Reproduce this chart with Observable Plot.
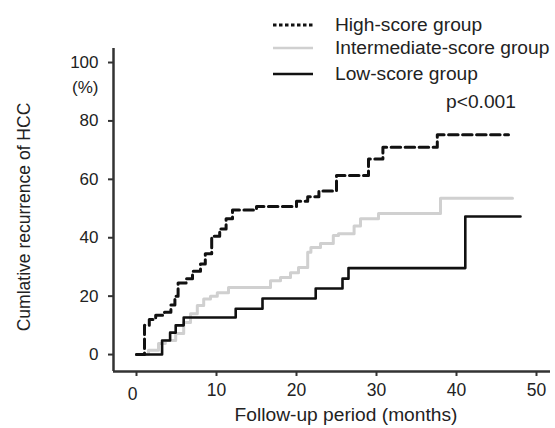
<!DOCTYPE html>
<html><head><meta charset="utf-8">
<script src="https://cdn.jsdelivr.net/npm/d3@7"></script>
<script src="https://cdn.jsdelivr.net/npm/@observablehq/plot@0.6"></script>
<style>
body{margin:0;background:#fff;}
#wrap{position:relative;width:555px;height:428px;font-family:"Liberation Sans",Arial,sans-serif;color:#222;overflow:hidden;}
.legrow{position:absolute;left:273px;height:24px;display:flex;align-items:center;font-size:19.2px;white-space:nowrap;}
.legrow svg{margin-right:22px;}
#pval{position:absolute;left:446px;top:91px;font-size:19.2px;}
</style></head><body><div id="wrap"></div>
<script>
const groups = ["High-score group", "Intermediate-score group", "Low-score group"];
const highMonths  = [0, 1.0, 1.6, 2.4, 3.5, 4.3, 4.8, 5.2, 6.2, 7.0, 8.0, 8.6, 9.4, 10.4, 11.2, 12.0, 15.0, 20.0, 21.4, 22.8, 25.0, 29.0, 30.8, 37.6, 46.5];
const highValues  = [0, 10, 12, 13.5, 14.5, 17, 20, 24.5, 26, 28.5, 31, 34.5, 40.5, 43, 46.5, 49.5, 50.7, 52.5, 54, 56, 61.3, 67, 71, 75.3, 75.3];
const interMonths = [0, 1.5, 2.75, 3.6, 4.9, 5.9, 6.75, 7.6, 8.4, 9.25, 10.1, 11.5, 16.75, 18.0, 19.25, 20.25, 21.4, 21.8, 23.0, 24.6, 25.25, 27.2, 28.0, 30.25, 38.0, 47.0];
const interValues = [0, 1.5, 3.8, 4.8, 7.2, 11, 14, 16.8, 19, 20, 21.2, 23, 25.3, 26.4, 28, 29.8, 35, 36.7, 38, 40.8, 41.4, 44, 46.5, 48.3, 53.5, 53.5];
const lowMonths   = [0, 3.2, 4.2, 4.9, 5.9, 12.4, 15.75, 22.4, 25.75, 26.5, 41.1, 48.0];
const lowValues   = [0, 4.8, 7.5, 10, 12.7, 15.7, 19.2, 22.6, 26, 29.6, 47.3, 47.3];
const xTicks = [0, 10, 20, 30, 40, 50];
const yTicks = [0, 20, 40, 60, 80, 100];
const xLabel = "Follow-up period (months)";
const yLabel = "Cumlative recurrence of HCC";
const yUnit = "(%)";
const pText = "p<0.001";
const xDomain = [-2.875, 51.75];
const yDomain = [-5.8, 104.8];

const rows = (g, ms, vs) => ms.map((m, i) => ({group: g, month: m, value: vs[i]}));
const high = rows(groups[0], highMonths, highValues);
const inter = rows(groups[1], interMonths, interValues);
const low = rows(groups[2], lowMonths, lowValues);

const styles = [
  {stroke: "#111", strokeWidth: 3, strokeDasharray: "9.5,4.5", legendDash: "3.5,2.5", legendWidth: 3},
  {stroke: "#d0d0d0", strokeWidth: 3, strokeDasharray: null, legendDash: null, legendWidth: 2.5},
  {stroke: "#111", strokeWidth: 2.6, strokeDasharray: null, legendDash: null, legendWidth: 2.5}
];

const font = "'Liberation Sans', Arial, sans-serif";
const chart = Plot.plot({
  width: 555, height: 428,
  marginLeft: 113, marginRight: 5, marginTop: 48, marginBottom: 57,
  style: {fontFamily: font, fontSize: "17px", color: "#222", background: "white", overflow: "visible"},
  x: {domain: xDomain},
  y: {domain: yDomain},
  marks: [
    Plot.line(inter, {x: "month", y: "value", curve: "step-after", stroke: styles[1].stroke, strokeWidth: styles[1].strokeWidth}),
    Plot.line(low, {x: "month", y: "value", curve: "step-after", stroke: styles[2].stroke, strokeWidth: styles[2].strokeWidth}),
    Plot.line(high, {x: "month", y: "value", curve: "step-after", stroke: styles[0].stroke, strokeWidth: styles[0].strokeWidth, strokeDasharray: styles[0].strokeDasharray}),
    Plot.axisY(yTicks, {anchor: "left", tickSize: 5, tickPadding: 10, label: null, stroke: "#333", strokeWidth: 2, fontSize: 17}),
    Plot.axisX(xTicks, {anchor: "bottom", tickSize: 5, text: null, label: null, stroke: "#333", strokeWidth: 2}),
    Plot.text(xTicks.slice(1), {x: d => d, frameAnchor: "bottom", dy: 24, fontSize: 17.5, fill: "#222"}),
    Plot.text(xTicks.slice(0, 1), {x: d => d, frameAnchor: "bottom", dy: 28, dx: -4, fontSize: 17.5, fill: "#222"}),
    Plot.ruleX([xDomain[0]], {stroke: "#333", strokeWidth: 2.5}),
    Plot.ruleY([yDomain[0]], {stroke: "#333", strokeWidth: 2.5}),
    Plot.text([yUnit], {x: xDomain[0], y: yTicks[5], dx: -15, dy: 25, textAnchor: "end", fontSize: 17, fill: "#222"}),
    Plot.text([yLabel], {frameAnchor: "left", textAnchor: "middle", rotate: -90, dx: -89, dy: 7, fontSize: 17.5, fill: "#222"}),
    Plot.text([xLabel], {frameAnchor: "bottom", textAnchor: "middle", dx: 14, dy: 49, fontSize: 19.2, fill: "#222"})
  ]
});
const wrap = document.getElementById("wrap");
wrap.appendChild(chart);

const legTops = [13, 36, 62];
groups.forEach((g, i) => {
  const row = document.createElement("div");
  row.className = "legrow";
  row.style.top = legTops[i] + "px";
  const s = styles[i];
  row.innerHTML = `<svg width="40" height="10"><line x1="0" x2="40" y1="5" y2="5" stroke="${s.stroke}" stroke-width="${s.legendWidth}" ${s.legendDash ? `stroke-dasharray="${s.legendDash}"` : ""}/></svg><span></span>`;
  row.querySelector("span").textContent = g;
  wrap.appendChild(row);
});
const p = document.createElement("div");
p.id = "pval";
p.textContent = pText;
wrap.appendChild(p);
</script>
</body></html>
